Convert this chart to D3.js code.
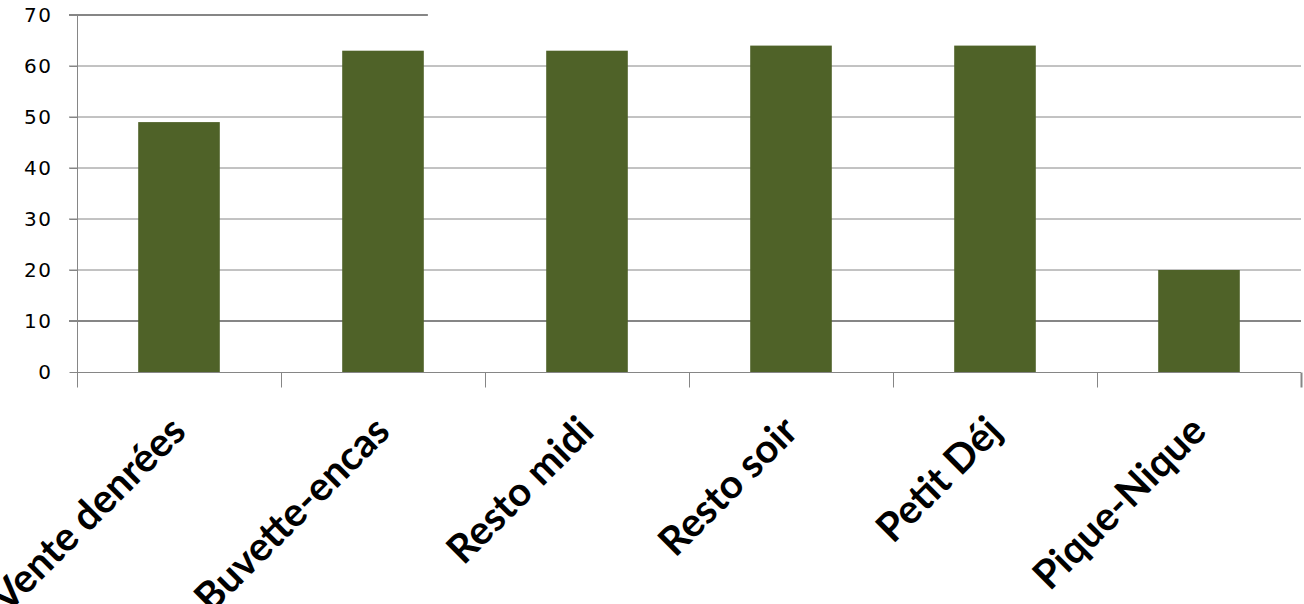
<!DOCTYPE html>
<html><head><meta charset="utf-8">
<script src="https://cdn.jsdelivr.net/npm/d3@7"></script>
<style>html,body{margin:0;padding:0;background:#fff;}svg{display:block;}</style>
</head><body>
<svg id="c" width="1304" height="604"></svg>
<script>
const categories = ["Vente denrées", "Buvette-encas", "Resto midi", "Resto soir", "Petit Déj", "Pique-Nique"];
const values = [49, 63, 63, 64, 64, 20];
const yTicks = [0, 10, 20, 30, 40, 50, 60, 70];

(function () {
const svg = d3.select("#c");
const mLeft = 77, mRight = 1301, mTop = 15, mBottom = 372;
const x = d3.scaleBand().domain(categories).range([mLeft, mRight]).padding(0);
const y = d3.scaleLinear().domain([0, 70]).range([mBottom, mTop]);
const grid = "#868686";

// gridlines
svg.append("g").selectAll("line").data(yTicks.filter(d => d > 0)).join("line")
  .attr("x1", mLeft - 8)
  .attr("x2", d => d === 70 ? mLeft + x.bandwidth() * 1.72 : mRight)
  .attr("y1", d => y(d)).attr("y2", d => y(d))
  .attr("stroke", grid)
  .attr("stroke-width", d => (d === 70 || d === 10) ? 2 : 1);

// bars
const bw = x.bandwidth() * 0.4;
svg.append("g").selectAll("rect").data(values).join("rect")
  .attr("x", (d, i) => x(categories[i]) + (x.bandwidth() - bw) / 2)
  .attr("width", bw)
  .attr("y", d => y(d))
  .attr("height", d => y(0) - y(d))
  .attr("fill", "#4F6228");

// y axis
const yAxis = d3.axisLeft(y).tickValues(yTicks).tickSize(8).tickPadding(17);
const gy = svg.append("g").attr("transform", `translate(${mLeft + 0.5},0)`).call(yAxis);
gy.select(".domain").attr("stroke", grid).attr("d", `M-8,${y(70)}H0V${mBottom + 15}`);
gy.selectAll(".tick line").attr("stroke", grid);
gy.selectAll(".tick text").attr("font-family", "DejaVu Sans").attr("font-size", 20)
  .attr("letter-spacing", 1.5).attr("fill", "#000");

// x axis
const gx = svg.append("g").attr("transform", `translate(0,${mBottom + 0.5})`);
gx.append("line").attr("x1", mLeft).attr("x2", mRight).attr("stroke", grid);
const bounds = categories.map(c => x(c)).concat([mRight]);
gx.selectAll("line.t").data(bounds).join("line").attr("class", "t")
  .attr("x1", d => Math.round(d) + 0.5).attr("x2", d => Math.round(d) + 0.5)
  .attr("y1", 0).attr("y2", 15)
  .attr("stroke", grid)
  .attr("stroke-width", (d, i) => i === bounds.length - 1 ? 2 : 1);

gx.selectAll("text").data(categories).join("text")
  .attr("transform", d => `translate(${x(d) + x.bandwidth() / 2 + 9},${61}) rotate(-45)`)
  .attr("text-anchor", "end")
  .attr("font-family", "Lato")
  .attr("font-weight", "bold")
  .attr("font-size", 40)
  .attr("fill", "#000")
  .text(d => d);
})();
</script>
</body></html>
